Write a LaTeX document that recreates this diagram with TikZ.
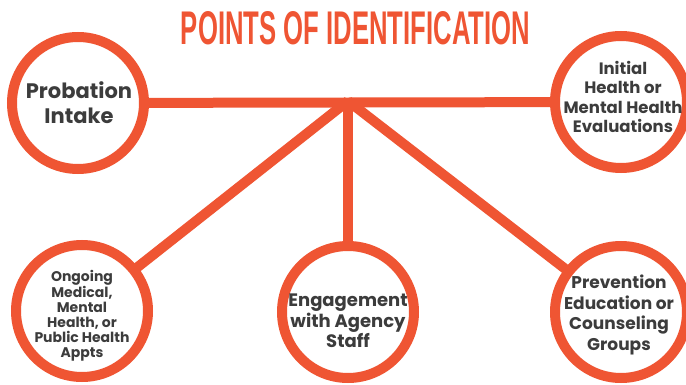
\documentclass[tikz,border=0pt]{standalone}
\usepackage{fontspec}
\setmainfont{Poppins}
\newfontfamily\titlefont{Liberation Sans}
\usetikzlibrary{backgrounds}
\definecolor{ring}{HTML}{EF5533}
\definecolor{ink}{HTML}{3C3C3C}
\tikzset{
  ringnode/.style={circle,draw=ring,line width=10pt,fill=white,minimum size=132pt,inner sep=0pt},
  conn/.style={draw=ring,line width=10pt},
  txt/.style={text=ink,align=center,inner sep=0pt,font=\bfseries}
}
\begin{document}
\begin{tikzpicture}[x=1pt,y=-1pt]
\useasboundingbox (0,0) rectangle (686,385);
\node[text=ring,inner sep=0pt] (title) at (355.5,28.5) {\resizebox{349pt}{33pt}{\titlefont\bfseries POINTS OF IDENTIFICATION}};
\node[ringnode] (pi) at (78,103) {};
\node[ringnode] (ih) at (621,102) {};
\node[ringnode] (om) at (82,311) {};
\node[ringnode] (ea) at (348,312) {};
\node[ringnode] (pe) at (621,312) {};
\coordinate (hub) at (348,101);
\begin{pgfonlayer}{background}
\draw[conn] (pi.center) -- (ih.center);
\draw[conn] (hub) -- (om.center);
\draw[conn] (hub) -- (ea.center);
\draw[conn] (hub) -- (pe.center);
\end{pgfonlayer}
\node[txt,font=\bfseries\fontsize{21}{25}\selectfont] (pit) at (79,103) {Probation\\Intake};
\node[txt,font=\bfseries\fontsize{16.5}{19.3}\selectfont] (iht) at (623,97) {Initial\\Health or\\Mental Health\\Evaluations};
\node[txt,font=\bfseries\fontsize{14}{15}\selectfont] (omt) at (82,316) {Ongoing\\Medical,\\Mental\\Health, or\\Public Health\\Appts};
\node[txt,font=\bfseries\fontsize{18}{20.7}\selectfont] (eat) at (348,321) {Engagement\\with Agency\\Staff};
\node[txt,font=\bfseries\fontsize{17}{20.5}\selectfont] (pet) at (619,315) {Prevention\\Education or\\Counseling\\Groups};
\end{tikzpicture}
\end{document}
